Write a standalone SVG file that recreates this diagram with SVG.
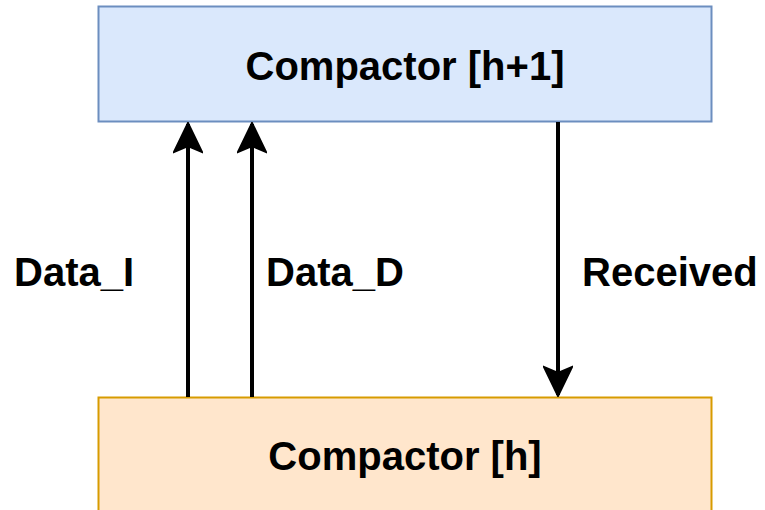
<svg xmlns="http://www.w3.org/2000/svg" width="765" height="510" viewBox="0 0 765 510">
<style>
.t{font-family:"Liberation Sans",Arial,sans-serif;font-weight:bold;font-size:40px;fill:#000}
.c{stroke:#000;stroke-width:4;fill:none}
</style>
<defs>
<marker id="ah" viewBox="0 0 32 30" refX="30" refY="15" markerWidth="32" markerHeight="30" markerUnits="userSpaceOnUse" orient="auto">
<path d="M2,1 L31,15 L2,29 L8,15 Z" fill="#000" stroke="#000" stroke-width="2"/>
</marker>
</defs>
<rect width="765" height="510" fill="#fff"/>
<g id="top">
<rect x="98.5" y="6.5" width="613" height="115" fill="#dae8fc" stroke="#6c8ebf" stroke-width="2"/>
<text class="t" x="405" y="80" text-anchor="middle" font-size="43">Compactor [h+1]</text>
</g>
<g id="bottom">
<rect x="98.5" y="397.5" width="613" height="130" fill="#ffe6cc" stroke="#d79b00" stroke-width="2"/>
<text class="t" x="405" y="470" text-anchor="middle" font-size="43">Compactor [h]</text>
</g>
<g id="connectors">
<line class="c" x1="188" y1="397" x2="188" y2="124" marker-end="url(#ah)"/>
<line class="c" x1="252" y1="397" x2="252" y2="124" marker-end="url(#ah)"/>
<line class="c" x1="558" y1="122" x2="558" y2="395" marker-end="url(#ah)"/>
<text class="t" x="14" y="286">Data_I</text>
<text class="t" x="266" y="286">Data_D</text>
<text class="t" x="582" y="286">Received</text>
</g>
</svg>
